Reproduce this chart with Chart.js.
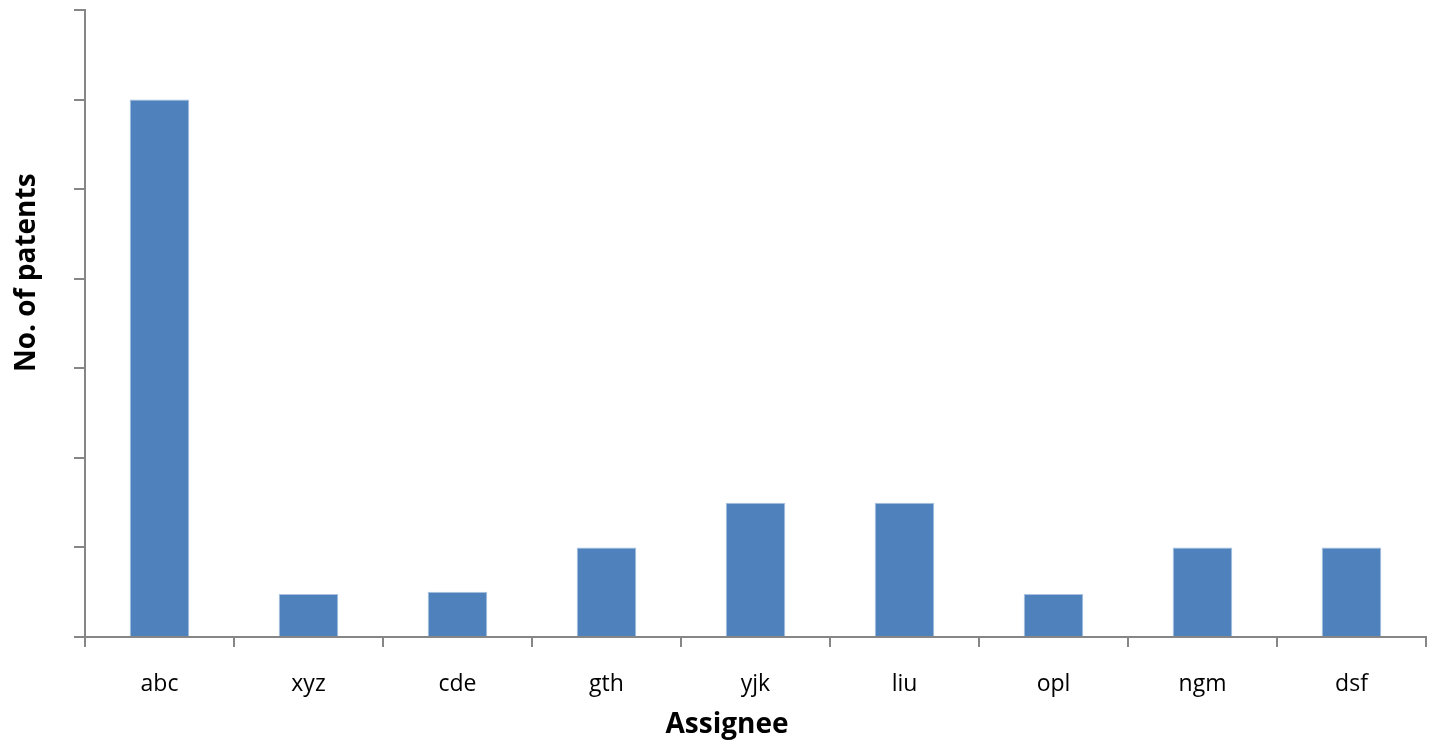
<!DOCTYPE html>
<html>
<head>
<meta charset="utf-8">
<script src="https://cdn.jsdelivr.net/npm/chart.js@4"></script>
<style>
  html, body { margin: 0; padding: 0; background: #fff; }
  #wrap { width: 1439px; height: 743px; }
</style>
</head>
<body>
<div id="wrap"><canvas id="patentChart"></canvas></div>
<script>
  // Chart data
  const assignees = ['abc', 'xyz', 'cde', 'gth', 'yjk', 'liu', 'opl', 'ngm', 'dsf'];
  const patentCounts = [12, 0.96, 1.01, 2, 3, 3, 0.96, 2, 2];
  const yTicks = [0, 2, 4, 6, 8, 10, 12, 14];

  const xTitle = 'Assignee';
  const yTitle = 'No. of patents';

  // Draws the axis titles where Excel put them
  const axisTitles = {
    id: 'axisTitles',
    afterDraw(chart) {
      const ctx = chart.ctx;
      const area = chart.chartArea;
      ctx.save();
      ctx.fillStyle = '#000';
      ctx.font = 'bold 28px "Open Sans"';
      ctx.textAlign = 'center';
      ctx.textBaseline = 'alphabetic';
      ctx.fillText(xTitle, 727, 733);
      ctx.translate(35, area.top + area.height * 0.419);
      ctx.rotate(-Math.PI / 2);
      ctx.fillText(yTitle, 0, 0);
      ctx.restore();
    }
  };

  new Chart(document.getElementById('patentChart'), {
    type: 'bar',
    data: {
      labels: assignees,
      datasets: [{
        data: patentCounts,
        backgroundColor: '#4f81bd',
        borderColor: '#a9c2e0',
        borderWidth: 1,
        barPercentage: 0.4,
        categoryPercentage: 1
      }]
    },
    options: {
      responsive: true,
      maintainAspectRatio: false,
      animation: false,
      layout: { padding: { top: 10, right: 13, left: 0, bottom: 0 } },
      plugins: { legend: { display: false }, tooltip: { enabled: false } },
      scales: {
        x: {
          grid: {
            offset: true,
            drawOnChartArea: false,
            drawTicks: true,
            tickLength: 10,
            color: '#868686',
            lineWidth: 2
          },
          border: { color: '#868686', width: 2 },
          ticks: {
            color: '#000',
            padding: 24,
            font: { family: '"Open Sans"', size: 23 }
          },
          afterFit(scale) { scale.height = 106; }
        },
        y: {
          min: 0,
          max: 14,
          afterBuildTicks(scale) {
            scale.ticks = yTicks.map(v => ({ value: v }));
          },
          grid: {
            drawOnChartArea: false,
            drawTicks: true,
            tickLength: 11,
            color: '#868686',
            lineWidth: 2
          },
          border: { color: '#868686', width: 2 },
          ticks: { display: false },
          afterFit(scale) { scale.width = 85; }
        }
      }
    },
    plugins: [axisTitles]
  });
</script>
</body>
</html>
